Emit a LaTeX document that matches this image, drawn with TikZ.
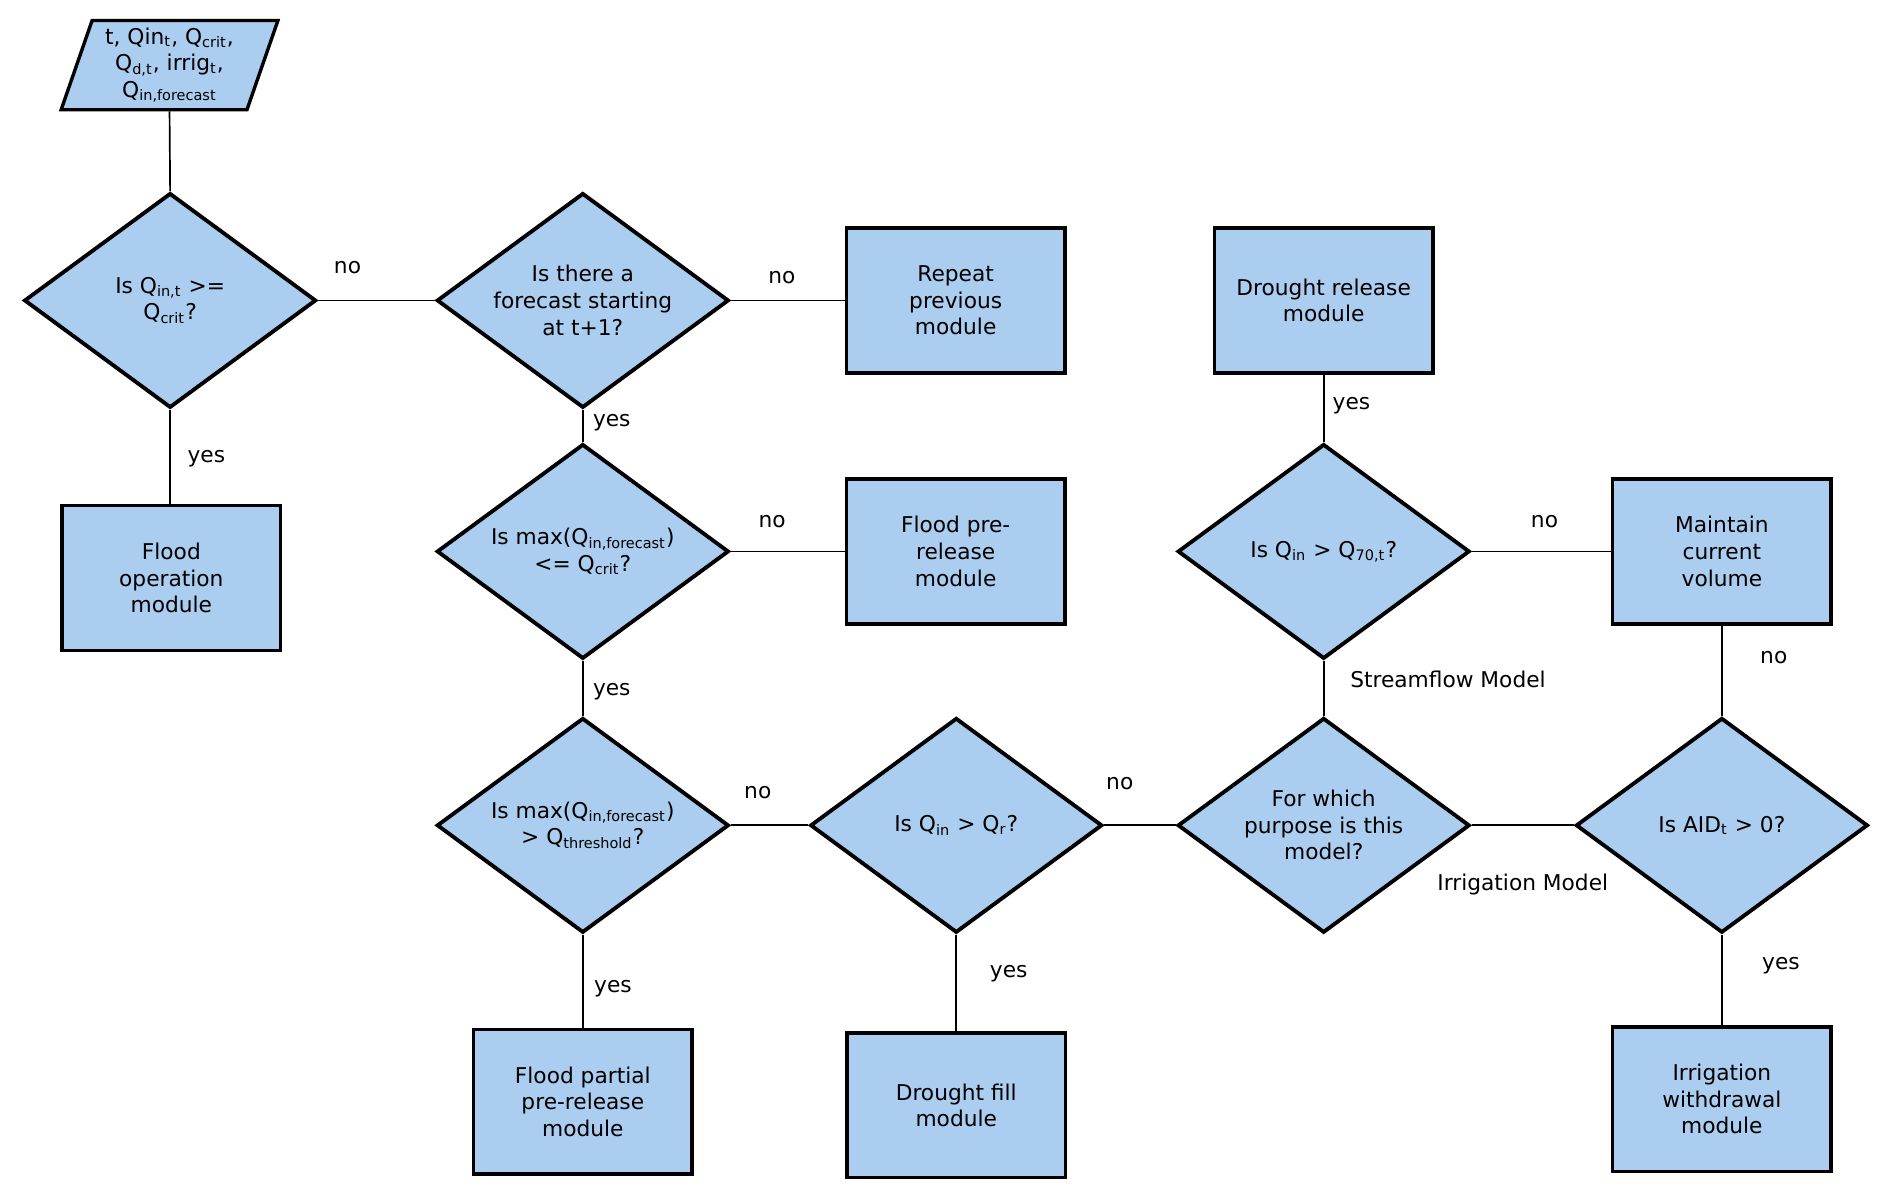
\documentclass[tikz,border=0pt]{standalone}
\usepackage{fontspec}
\setmainfont{DejaVu Sans}
\usetikzlibrary{shapes.geometric}
\definecolor{boxblue}{RGB}{171,205,239}
\newcommand{\sbs}[1]{\textsubscript{#1}}
\begin{document}
\begin{tikzpicture}[x=0.5pt,y=-0.5pt,
  font=\fontsize{9}{11}\selectfont,
  dec/.style={diamond, draw=black, line width=1.6pt, fill=boxblue, minimum width=121pt, minimum height=89pt, inner sep=0pt, shape aspect=1.36, align=center},
  mod/.style={rectangle, draw=black, line width=1.4pt, fill=boxblue, minimum width=90.5pt, minimum height=60pt, inner sep=2pt, align=center},
  io/.style={trapezium, trapezium left angle=71, trapezium right angle=109, trapezium stretches=true, draw=black, line width=1.4pt, fill=boxblue, minimum width=90.5pt, minimum height=37pt, inner sep=0pt, align=center},
  lnk/.style={line width=0.7pt},
  lbl/.style={inner sep=1pt}]
\useasboundingbox (0,0) rectangle (1568,994);

% nodes
\node[io] (in) at (140.5,54) {t, Qin\sbs{t}, Q\sbs{crit},\\Q\sbs{d,t}, irrig\sbs{t},\\Q\sbs{in,forecast}};
\node[dec] (d1) at (141,249) {Is Q\sbs{in,t} >=\\Q\sbs{crit}?};
\node[dec] (d2) at (483,249) {Is there a\\forecast starting\\at t+1?};
\node[mod] (rep) at (792,249) {Repeat\\previous\\module};
\node[dec] (d3) at (483,457) {Is max(Q\sbs{in,forecast})\\<= Q\sbs{crit}?};
\node[mod] (pre) at (792,457) {Flood pre-\\release\\module};
\node[dec] (d4) at (483,684) {Is max(Q\sbs{in,forecast})\\> Q\sbs{threshold}?};
\node[dec] (d5) at (792.5,684) {Is Q\sbs{in} > Q\sbs{r}?};
\node[dec] (d6) at (1097,684) {For which\\purpose is this\\model?};
\node[dec] (d7) at (1427,684) {Is AID\sbs{t} > 0?};
\node[dec] (q70) at (1097,457) {Is Q\sbs{in} > Q\sbs{70,t}?};
\node[mod] (drel) at (1097,249) {Drought release\\module};
\node[mod] (main) at (1427,457) {Maintain\\current\\volume};
\node[mod] (irr) at (1427,911) {Irrigation\\withdrawal\\module};
\node[mod] (fop) at (142,479) {Flood\\operation\\module};
\node[mod] (part) at (483,913) {Flood partial\\pre-release\\module};
\node[mod] (fill) at (792.5,916) {Drought fill\\module};

% connectors
\draw[lnk] (in.south) -- (d1.north);
\draw[lnk] (d1.east) -- (d2.west);
\draw[lnk] (d2.east) -- (rep.west);
\draw[lnk] (d2.south) -- (d3.north);
\draw[lnk] (d3.east) -- (pre.west);
\draw[lnk] (d3.south) -- (d4.north);
\draw[lnk] (d4.east) -- (d5.west);
\draw[lnk] (d4.south) -- (part.north);
\draw[lnk] (d5.south) -- (fill.north);
\draw[lnk] (d5.east) -- (d6.west);
\draw[lnk] (d6.north) -- (q70.south);
\draw[lnk] (q70.north) -- (drel.south);
\draw[lnk] (q70.east) -- (main.west);
\draw[lnk] (d6.east) -- (d7.west);
\draw[lnk] (d7.north) -- (main.south);
\draw[lnk] (d7.south) -- (irr.north);
\draw[lnk] (d1.south) -- (d1.south |- fop.north);

% labels
\node[lbl] (l1) at (288,222) {no};
\node[lbl] (l2) at (648,230) {no};
\node[lbl] (l3) at (507,350) {yes};
\node[lbl] (l4) at (640,432) {no};
\node[lbl] (l5) at (507,573) {yes};
\node[lbl] (l6) at (628,657) {no};
\node[lbl] (l7) at (508,819) {yes};
\node[lbl] (l8) at (836,807) {yes};
\node[lbl] (l9) at (928,649) {no};
\node[lbl] (l10) at (1200,563) {Streamflow Model};
\node[lbl] (l11) at (1120,336) {yes};
\node[lbl] (l12) at (1280,432) {no};
\node[lbl] (l13) at (1262,733) {Irrigation Model};
\node[lbl] (l14) at (1470,545) {no};
\node[lbl] (l15) at (1476,800) {yes};
\node[lbl] (l16) at (171,380) {yes};
\end{tikzpicture}
\end{document}
